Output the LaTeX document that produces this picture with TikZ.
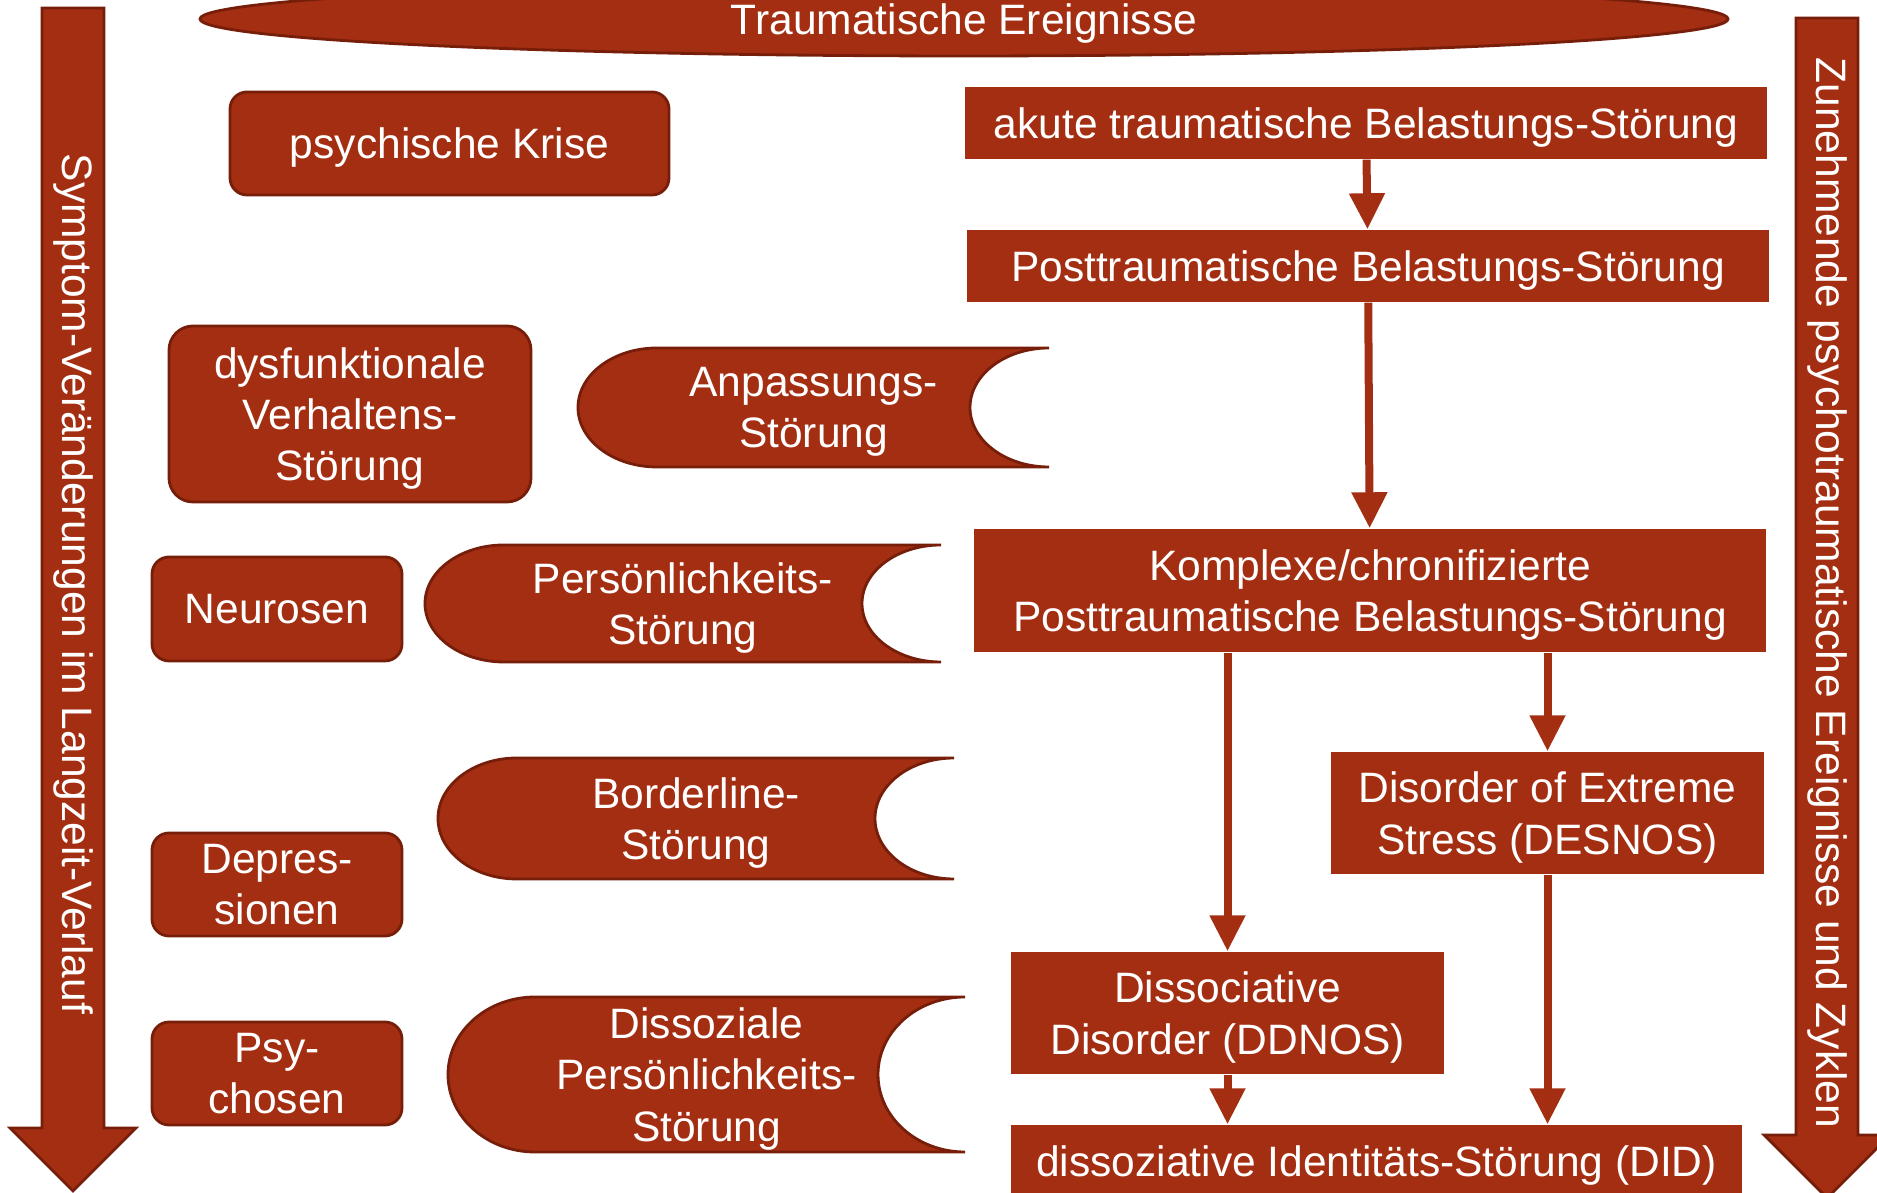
\documentclass[tikz,border=0pt]{standalone}
\usepackage{fontspec}
\setmainfont{Liberation Sans}
\usetikzlibrary{arrows.meta,shapes.geometric}
\definecolor{traumared}{RGB}{164,46,17}
\definecolor{traumadark}{RGB}{118,30,10}
% left x, right x, bottom y, top y, x radius, y radius
\newcommand{\scrollbox}[6]{%
  \draw[shapeline] ({#1+#5},#4) -- (#2,#4)
    arc[start angle=90, end angle=270, x radius=#5, y radius=#6]
    -- ({#1+#5},#3)
    arc[start angle=270, end angle=90, x radius=#5, y radius=#6] -- cycle;}

\begin{document}
\begin{tikzpicture}[every node/.style={text=white, align=center, font=\fontsize{12.1}{14.6}\selectfont},
  inlay/.style={text depth=-0.6pt},
  box/.style={inlay, fill=traumared, inner sep=0pt},
  roundbox/.style={box, draw=traumadark, line width=0.8pt, rounded corners=0.17cm},
  shapeline/.style={fill=traumared, draw=traumadark, line width=0.8pt},
  flow/.style={draw=traumared, line width=0.08cm, -{Triangle[width=0.34cm,length=0.36cm]}}]

  \useasboundingbox (0,0) rectangle (18.77,11.93);

  % side arrows
  \draw[shapeline] (0.42,11.85) -- (1.04,11.85) -- (1.04,0.65) -- (1.36,0.65) -- (0.73,0.02) -- (0.10,0.65) -- (0.42,0.65) -- cycle;
  \node[rotate=-90] (verlauf) at (0.73,6.09) {Symptom-Veränderungen im Langzeit-Verlauf};
  \draw[shapeline] (17.96,11.75) -- (18.58,11.75) -- (18.58,0.58) -- (18.90,0.58) -- (18.27,-0.05) -- (17.64,0.58) -- (17.96,0.58) -- cycle;
  \node[rotate=-90] (zyklen) at (18.27,6.00) {Zunehmende psychotraumatische Ereignisse und Zyklen};

  \node[ellipse, inlay, shapeline, minimum width=15.28cm, minimum height=0.74cm, inner sep=0pt] (ereignisse) at (9.64,11.74) {Traumatische Ereignisse};

  % left column
  \node[roundbox, minimum width=4.39cm, minimum height=1.03cm] (krise) at (4.495,10.495) {psychische Krise};
  \node[roundbox, rounded corners=0.24cm, minimum width=3.62cm, minimum height=1.76cm] (verhalten) at (3.50,7.79) {dysfunktionale\\Verhaltens-\\Störung};
  \node[roundbox, minimum width=2.50cm, minimum height=1.04cm] (neurosen) at (2.77,5.84) {Neurosen};
  \node[roundbox, minimum width=2.50cm, minimum height=1.03cm] (depression) at (2.77,3.085) {Depres-\\sionen};
  \node[roundbox, minimum width=2.50cm, minimum height=1.03cm] (psychosen) at (2.77,1.195) {Psy-\\chosen};

  % middle column
  \scrollbox{5.78}{10.49}{7.26}{8.45}{0.79}{0.595}
  \node[inlay] (anpassung) at (8.135,7.855) {Anpassungs-\\Störung};
  \scrollbox{4.25}{9.41}{5.31}{6.48}{0.79}{0.585}
  \node[inlay] (persoenlich) at (6.83,5.895) {Persönlichkeits-\\Störung};
  \scrollbox{4.38}{9.54}{3.14}{4.35}{0.79}{0.605}
  \node[inlay] (borderline) at (6.96,3.745) {Borderline-\\Störung};
  \scrollbox{4.48}{9.65}{0.41}{1.96}{0.87}{0.775}
  \node[inlay] (dissozial) at (7.065,1.185) {Dissoziale\\Persönlichkeits-\\Störung};

  % right column
  \node[box, minimum width=8.02cm, minimum height=0.72cm] (akute) at (13.66,10.70) {akute traumatische Belastungs-Störung};
  \node[box, minimum width=8.02cm, minimum height=0.72cm] (ptbs) at (13.68,9.27) {Posttraumatische Belastungs-Störung};
  \node[box, minimum width=7.92cm, minimum height=1.23cm] (komplex) at (13.70,6.025) {Komplexe/chronifizierte\\Posttraumatische Belastungs-Störung};
  \node[box, minimum width=4.33cm, minimum height=1.22cm] (desnos) at (15.475,3.80) {Disorder of Extreme\\Stress (DESNOS)};
  \node[box, minimum width=4.33cm, minimum height=1.22cm] (ddnos) at (12.275,1.80) {Dissociative\\Disorder (DDNOS)};
  \node[box, minimum width=7.31cm, minimum height=0.72cm] (did) at (13.765,0.32) {dissoziative Identitäts-Störung (DID)};

  \draw[flow] (akute) -- (ptbs);
  \draw[flow] (ptbs) -- (komplex);
  \draw[flow] (komplex.south -| ddnos.north) -- (ddnos.north);
  \draw[flow] (komplex.south -| desnos.north) -- (desnos.north);
  \draw[flow] (ddnos.south) -- (did.north -| ddnos.south);
  \draw[flow] (desnos.south) -- (did.north -| desnos.south);
\end{tikzpicture}
\end{document}
